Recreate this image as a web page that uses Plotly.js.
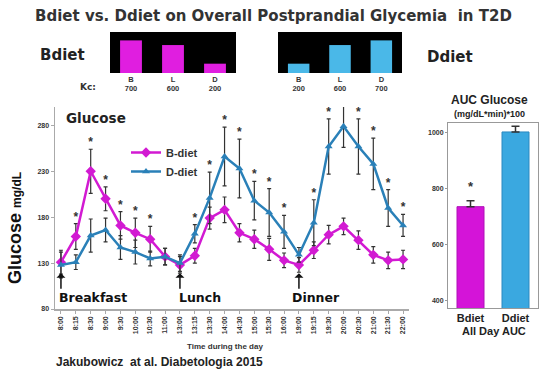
<!DOCTYPE html>
<html><head><meta charset="utf-8">
<script src="https://cdn.plot.ly/plotly-3.0.1.min.js"></script>
<style>html,body{margin:0;padding:0;background:#fff}#chart{width:550px;height:383px}</style>
</head><body><div id="chart"></div>
<script>
// ---- data ----
const times = ['8:00','8:15','8:30','9:00','9:30','10:00','10:30','11:00','13:00','13:15','13:30','14:00','14:30','15:00','15:30','16:00','19:00','19:15','19:30','20:00','20:30','21:00','21:30','22:00'];
const bDiet    = [131,159,230,200,171,163,156,137,128,138,179,188,163,156,145,133,128,144,161,170,155,139,133,134];
const bDietErr = [13,14,24,13,15,16,14,9,9,8,12,14,10,10,12,8,8,9,10,9,10,9,9,10];
const dDiet    = [128,131,160,166,147,142,135,137,130,162,201,246,233,198,185,164,139,174,257,279,257,238,190,171];
const dDietErr = [14,8,18,13,13,13,8,9,9,10,28,32,32,21,26,18,8,25,30,23,30,28,20,12];
const bStar = [0,1,1,1,1,1,1,0,0,0,0,0,0,0,0,0,0,0,0,0,0,0,0,0];
const dStar = [0,0,0,0,0,0,0,0,0,1,1,1,1,1,1,1,0,1,1,1,1,1,1,1];
const meals = ['B','L','D'];
const bdietKcal = [700,600,200];
const ddietKcal = [200,600,700];
const mealTimes = ['8:00','13:00','19:00'];
const mealNames = ['Breakfast','Lunch','Dinner'];
const aucGroups = ['Bdiet','Ddiet'];
const aucValues = [736,1003];
const aucErr = [21,20];
const aucStar = [1,0];

// ---- style ----
const MAG = '#d21ad2', BLU = '#2a80b8';
const F = 'Liberation Sans, Arial, sans-serif';
const DJ = 'DejaVu Sans, sans-serif';
const W = 550, H = 383;
const px = v => v / W, py = v => 1 - v / H;

const traces = [];
traces.push({x: times, y: bDiet, name: 'B-diet', type: 'scatter', mode: 'lines+markers',
  line: {color: MAG, width: 2.5}, marker: {symbol: 'diamond', size: 8, color: MAG},
  error_y: {type: 'data', array: bDietErr, color: '#333', thickness: 1.2, width: 2}});
traces.push({x: times, y: dDiet, name: 'D-diet', type: 'scatter', mode: 'lines+markers',
  line: {color: BLU, width: 2.5}, marker: {symbol: 'triangle-up', size: 7, color: BLU},
  error_y: {type: 'data', array: dDietErr, color: '#333', thickness: 1.2, width: 2}});
// significance stars
traces.push({x: times, y: bDiet.map((v,i)=>v+bDietErr[i]), text: bStar.map(s=>s?'*':''),
  mode: 'text', textposition: 'top center', showlegend: false, hoverinfo: 'skip',
  textfont: {family: F, size: 12, color: '#333', weight: 'bold'}});
traces.push({x: times, y: dDiet.map((v,i)=>v+dDietErr[i]), text: dStar.map(s=>s?'*':''),
  mode: 'text', textposition: 'top center', showlegend: false, hoverinfo: 'skip',
  textfont: {family: F, size: 12, color: '#333', weight: 'bold'}});
// meal size bars
traces.push({x: meals, y: bdietKcal, type: 'bar', xaxis: 'x2', yaxis: 'y2', showlegend: false,
  marker: {color: '#e01ee0'}, width: 0.52});
traces.push({x: meals, y: ddietKcal, type: 'bar', xaxis: 'x3', yaxis: 'y3', showlegend: false,
  marker: {color: '#4ab8e8'}, width: 0.52});
// AUC bars
traces.push({x: aucGroups, y: aucValues, type: 'bar', xaxis: 'x4', yaxis: 'y4', showlegend: false,
  marker: {color: ['#d414d8', '#3aa8e0'], line: {color: ['#b010b8','#2a88c0'], width: 1}}, width: 0.6,
  error_y: {type: 'data', symmetric: false, array: aucErr, arrayminus: aucErr.map(()=>0), color: '#333', thickness: 1.5, width: 4}});
traces.push({x: aucGroups, y: aucValues.map((v,i)=>v+aucErr[i]+25), text: aucStar.map(s=>s?'*':''),
  mode: 'text', textposition: 'top center', xaxis: 'x4', yaxis: 'y4', showlegend: false, hoverinfo: 'skip',
  textfont: {family: F, size: 13, color: '#333', weight: 'bold'}});

const tickF = {family: F, size: 7, color: '#333', weight: 'bold'};
const smallTicks = k => meals.map((m,i)=>m+'<br>'+k[i]);

function note(text, x, y, font, extra) {
  return Object.assign({text, xref: 'paper', yref: 'paper', x: px(x), y: py(y), xanchor: 'center',
    yanchor: 'middle', showarrow: false, font}, extra || {});
}
const annotations = [
  note('Bdiet vs. Ddiet on Overall Postprandial Glycemia  in T2D', 273, 16, {family: DJ, size: 15, color: '#333', weight: 'bold'}),
  note('Bdiet', 62, 55, {family: DJ, size: 15, color: '#222', weight: 'bold'}),
  note('Ddiet', 450, 57, {family: DJ, size: 15, color: '#222', weight: 'bold'}),
  note('Kc:', 88, 87, {family: DJ, size: 9, color: '#333', weight: 'bold'}),
  note('Glucose', 64, 118, {family: DJ, size: 13.5, color: '#222', weight: 'bold'}, {xanchor: 'left'}),
  note('<b>Glucose</b> <span style="font-size:12px"><b>mg/dL</b></span>', 15, 228, {family: F, size: 18, color: '#111'}, {textangle: -90}),
  note('Time during the day', 225, 346, {family: F, size: 8, color: '#333', weight: 'bold'}),
  note('Jakubowicz  at al. Diabetologia 2015', 54, 362, {family: F, size: 12, color: '#222', weight: 'bold'}, {xanchor: 'left'}),
  note('AUC Glucose', 489, 100, {family: F, size: 12, color: '#222', weight: 'bold'}),
  note('(mg/dL*min)*100', 489, 114, {family: F, size: 9, color: '#222', weight: 'bold'}),
  note('All Day AUC', 494, 331, {family: F, size: 11, color: '#222', weight: 'bold'})
];
const mealShift = [-4, -3, -9];
mealTimes.forEach((t,i)=>{
  annotations.push({x: t, y: 119, xref: 'x', yref: 'y', text: '', showarrow: true, ax: 0, ay: 17,
    arrowhead: 1, arrowsize: 1, arrowwidth: 1.5, arrowcolor: '#111'});
  annotations.push({x: t, y: 92, xref: 'x', yref: 'y', text: mealNames[i], showarrow: false,
    xanchor: 'left', yanchor: 'middle', xshift: mealShift[i], font: {family: DJ, size: 12.5, color: '#111', weight: 'bold'}});
});

const smallTickF = {family: F, size: 7.5, color: '#333', weight: 'bold'};
const layout = {
  width: W, height: H, margin: {l: 0, r: 0, t: 0, b: 0},
  paper_bgcolor: '#fff', plot_bgcolor: 'rgba(0,0,0,0)',
  showlegend: true,
  legend: {x: px(126), y: py(138), xanchor: 'left', yanchor: 'top', bgcolor: 'rgba(0,0,0,0)',
    font: {family: F, size: 11, color: '#333', weight: 'bold'}, tracegroupgap: 0, itemwidth: 30},
  xaxis: {domain: [px(55), px(409)], type: 'category', categoryarray: times, range: [-0.4, 23.4],
    showgrid: false, zeroline: false, showline: true, linecolor: '#aaa', linewidth: 1.5,
    ticks: 'outside', ticklen: 3, tickcolor: '#aaa', tickangle: -90, tickfont: tickF, anchor: 'y'},
  yaxis: {domain: [py(309), py(107)], range: [80, 300], tickvals: [80,130,180,230,280],
    showgrid: false, zeroline: false, showline: true, linecolor: '#aaa', linewidth: 1.5,
    ticks: 'outside', ticklen: 3, tickcolor: '#aaa', tickfont: tickF, anchor: 'x'},
  xaxis2: {domain: [px(110), px(236)], anchor: 'y2', showline: false, showgrid: false, zeroline: false,
    tickvals: meals, ticktext: smallTicks(bdietKcal), ticks: '', tickfont: smallTickF},
  yaxis2: {domain: [py(73), py(32)], anchor: 'x2', range: [0, 880], visible: false},
  xaxis3: {domain: [px(278), px(402)], anchor: 'y3', showline: false, showgrid: false, zeroline: false,
    tickvals: meals, ticktext: smallTicks(ddietKcal), ticks: '', tickfont: smallTickF},
  yaxis3: {domain: [py(73), py(32)], anchor: 'x3', range: [0, 880], visible: false},
  xaxis4: {domain: [px(448), px(538)], anchor: 'y4', showgrid: false, zeroline: false, showline: true,
    mirror: true, linecolor: '#999', linewidth: 1, ticks: '', tickfont: {family: F, size: 11, color: '#222', weight: 'bold'}},
  yaxis4: {domain: [py(308), py(123)], anchor: 'x4', range: [374, 1035], tickvals: [400,600,800,1000],
    showgrid: false, zeroline: false, showline: true, mirror: true, linecolor: '#999', linewidth: 1,
    ticks: 'outside', ticklen: 2, tickcolor: '#999', tickfont: tickF},
  shapes: [
    {type: 'rect', xref: 'x2 domain', yref: 'y2 domain', x0: 0, x1: 1, y0: 0, y1: 1, fillcolor: '#000', line: {width: 0}, layer: 'below'},
    {type: 'rect', xref: 'x3 domain', yref: 'y3 domain', x0: 0, x1: 1, y0: 0, y1: 1, fillcolor: '#000', line: {width: 0}, layer: 'below'}
  ],
  annotations: annotations
};
Plotly.newPlot('chart', traces, layout, {displayModeBar: false, staticPlot: true});
</script></body></html>
